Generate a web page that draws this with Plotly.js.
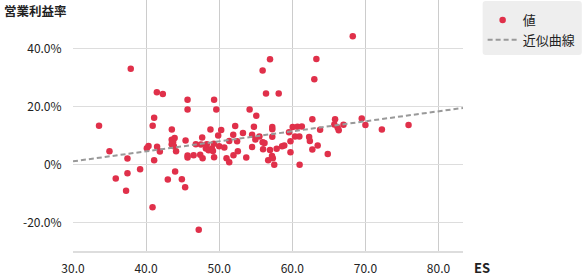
<!DOCTYPE html>
<html>
<head>
<meta charset="utf-8">
<script src="https://cdn.plot.ly/plotly-3.0.1.min.js"></script>
<style>
html,body{margin:0;padding:0;background:#fff;}
#chart{width:582px;height:276px;}
</style>
</head>
<body>
<div id="chart"></div>
<script>
// ES values (x)
const esValues = [
  33.56, 34.99, 35.85, 37.26, 37.45, 37.45, 37.9, 39.18, 40.1, 40.33,
  40.88, 41.1, 40.9, 41.1, 41.47, 42.29, 41.5, 41.88, 42.97, 43.52,
  43.5, 43.7, 43.9, 43.5, 43.8, 44.1, 43.97, 44.89, 45.34, 45.4,
  45.67, 45.67, 45.67, 45.67, 46.5, 46.8, 47.4, 47.5, 47.67, 47.73,
  47.2, 48.3, 48.18, 48.55, 48.8, 49.0, 49.14, 49.27, 49.3, 49.6,
  49.3, 49.86, 50.0, 50.27, 50.7, 51.0, 51.37, 51.37, 51.92, 51.95,
  52.19, 52.45, 52.55, 53.25, 53.7, 54.16, 54.5, 54.5, 54.75, 54.95,
  55.07, 55.5, 55.94, 55.94, 56.2, 56.0, 56.4, 56.7, 56.95, 56.95,
  57.26, 57.26, 57.26, 57.22, 57.33, 57.53, 57.86, 58.14, 58.6, 58.9,
  59.55, 59.75, 59.75, 60.05, 60.7, 61.3, 60.37, 60.96, 61.0, 62.3,
  62.4, 62.74, 62.74, 63.01, 63.29, 63.47, 63.8, 64.85, 65.75, 65.85,
  66.2, 66.35, 67.0, 68.27, 69.5, 70.0, 72.25, 75.9
];
// 営業利益率 values (%)
const marginValues = [
  13.4, 4.6, -4.8, -9.0, 2.1, -3.0, 33.0, -1.6, 5.6, 6.4,
  -14.7, 1.5, 13.4, 16.1, 24.9, 24.3, 6.1, 4.5, -5.2, 12.1,
  8.5, 7.8, 9.1, 7.0, 6.3, 4.6, -2.4, -5.1, -7.8, 8.3,
  22.3, 19.0, 3.1, 2.4, 3.2, 7.0, 3.4, 6.9, 9.3, 2.2,
  -22.5, 7.0, 5.5, 4.9, 12.1, 5.5, 4.7, 7.2, 22.3, 19.0,
  2.5, 10.0, 6.3, 11.9, 5.9, 2.2, 0.8, 8.1, 10.3, 3.2,
  13.3, 8.0, 4.6, 10.9, 2.4, 19.0, 6.0, 10.3, 13.0, 8.6,
  16.8, 9.7, 32.4, 7.7, 7.4, 5.3, 24.5, 1.5, 36.3, 5.0,
  12.9, 12.2, 9.6, 2.9, 2.2, -0.1, 5.4, 24.5, 6.3, 6.6,
  11.1, 8.0, 4.2, 12.9, 13.0, 13.1, 9.7, 9.7, -0.1, 9.5,
  8.1, 5.2, 15.6, 29.4, 36.4, 6.6, 12.0, 3.6, 13.8, 15.6,
  12.8, 11.8, 13.7, 44.2, 15.9, 13.6, 12.1, 13.6
];
// 近似曲線 (trend line) endpoints
const trendX = [30, 83.35];
const trendY = [1.1, 19.5];

const yTickVals = [-20, 0, 20, 40];
const yTickText = ["-20.0%", "0%", "20.0%", "40.0%"];
const xTickVals = [30, 40, 50, 60, 70, 80];
const xTickText = ["30.0", "40.0", "50.0", "60.0", "70.0", "80.0"];

const FONT = "'Noto Sans CJK JP', 'Noto Sans', sans-serif";

const traces = [
  {
    type: "scatter", mode: "markers", name: "値",
    x: esValues, y: marginValues,
    marker: {color: "#e0304a", size: 6.5},
    cliponaxis: false
  },
  {
    type: "scatter", mode: "lines", name: "近似曲線",
    x: trendX, y: trendY,
    line: {color: "#999999", width: 2, dash: "5px,3px"}
  }
];

// rounded legend background (paper coords)
const PW = 389.4, PH = 251;
function px(xp) { return (xp - 73) / PW; }
function py(yp) { return 1 - yp / PH; }
function roundRect(x0, y0, x1, y1, r) {
  return "M" + px(x0 + r) + "," + py(y0) +
    " L" + px(x1 - r) + "," + py(y0) +
    " Q" + px(x1) + "," + py(y0) + " " + px(x1) + "," + py(y0 + r) +
    " L" + px(x1) + "," + py(y1 - r) +
    " Q" + px(x1) + "," + py(y1) + " " + px(x1 - r) + "," + py(y1) +
    " L" + px(x0 + r) + "," + py(y1) +
    " Q" + px(x0) + "," + py(y1) + " " + px(x0) + "," + py(y1 - r) +
    " L" + px(x0) + "," + py(y0 + r) +
    " Q" + px(x0) + "," + py(y0) + " " + px(x0 + r) + "," + py(y0) + " Z";
}

const layout = {
  width: 582, height: 276,
  margin: {l: 73, r: 119, t: 0, b: 25, pad: 0},
  paper_bgcolor: "#ffffff", plot_bgcolor: "#ffffff",
  font: {family: FONT, size: 12, color: "#222222"},
  showlegend: true,
  legend: {
    x: px(482), xanchor: "left", y: py(5), yanchor: "top",
    bgcolor: "rgba(0,0,0,0)", borderwidth: 0,
    font: {family: FONT, size: 13, color: "#222222"},
    tracegroupgap: 0, itemwidth: 30
  },
  shapes: [
    {
      type: "path", xref: "paper", yref: "paper", layer: "below",
      path: roundRect(482, 1, 581, 55, 3),
      fillcolor: "#eeeeee", line: {width: 0}
    }
  ],
  xaxis: {
    range: [30, 83.35], tickvals: xTickVals, ticktext: xTickText,
    showgrid: true, gridcolor: "#cccccc", gridwidth: 1,
    zeroline: false, showline: true, linecolor: "#dddddd", linewidth: 2,
    ticks: "outside", ticklen: 6, tickcolor: "rgba(0,0,0,0)",
    tickfont: {family: FONT, size: 12, color: "#222222"}
  },
  yaxis: {
    range: [-29.8, 56.7], tickvals: yTickVals, ticktext: yTickText,
    showgrid: true, gridcolor: "#dddddd", gridwidth: 1.5,
    zeroline: false, showline: false,
    ticks: "outside", ticklen: 8, tickcolor: "rgba(0,0,0,0)",
    tickfont: {family: FONT, size: 12, color: "#222222"}
  },
  annotations: [
    {
      text: "<b>営業利益率</b>", xref: "paper", yref: "paper",
      x: -73/389.4, xanchor: "left", xshift: 2, y: 1, yanchor: "top", yshift: 1,
      showarrow: false, font: {family: FONT, size: 12.5, color: "#222222"}
    },
    {
      text: "<b>ES</b>", xref: "paper", yref: "paper",
      x: 1, xanchor: "left", xshift: 9, y: 0, yanchor: "top", yshift: -5,
      showarrow: false, font: {family: FONT, size: 13, color: "#222222"}
    }
  ]
};

Plotly.newPlot("chart", traces, layout, {staticPlot: true, displayModeBar: false});
</script>
</body>
</html>
